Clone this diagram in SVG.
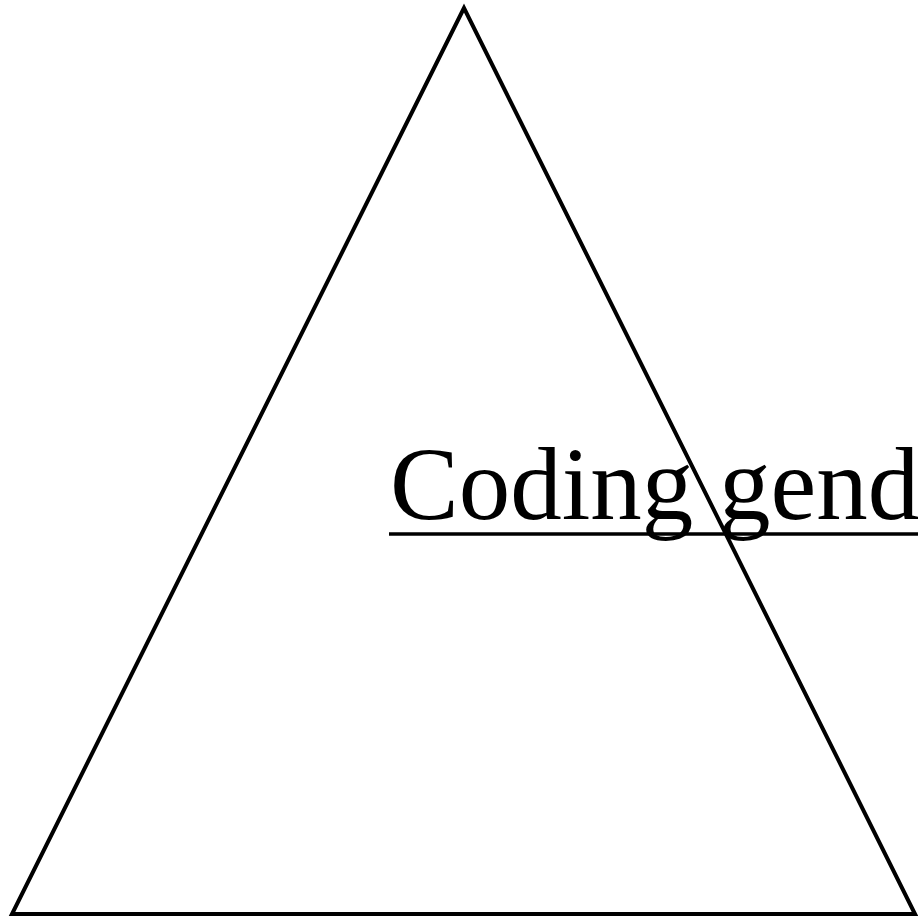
<svg xmlns="http://www.w3.org/2000/svg" width="918" height="924" viewBox="0 0 918 924">
<style>
.shape{fill:none;stroke:#000;stroke-width:4;stroke-linejoin:miter;stroke-miterlimit:10}
.lbl{font-family:"Liberation Serif","Times New Roman",serif;font-size:103px;fill:#000}
</style>
<rect width="918" height="924" fill="#fff"/>
<g id="triangle">
<polygon class="shape" points="464,8 12,914 915,914"/>
</g>
<g id="label">
<text class="lbl" x="390" y="519">Coding gend</text>
<line x1="389" y1="534" x2="918" y2="534" stroke="#000" stroke-width="3.5"/>
</g>
</svg>
